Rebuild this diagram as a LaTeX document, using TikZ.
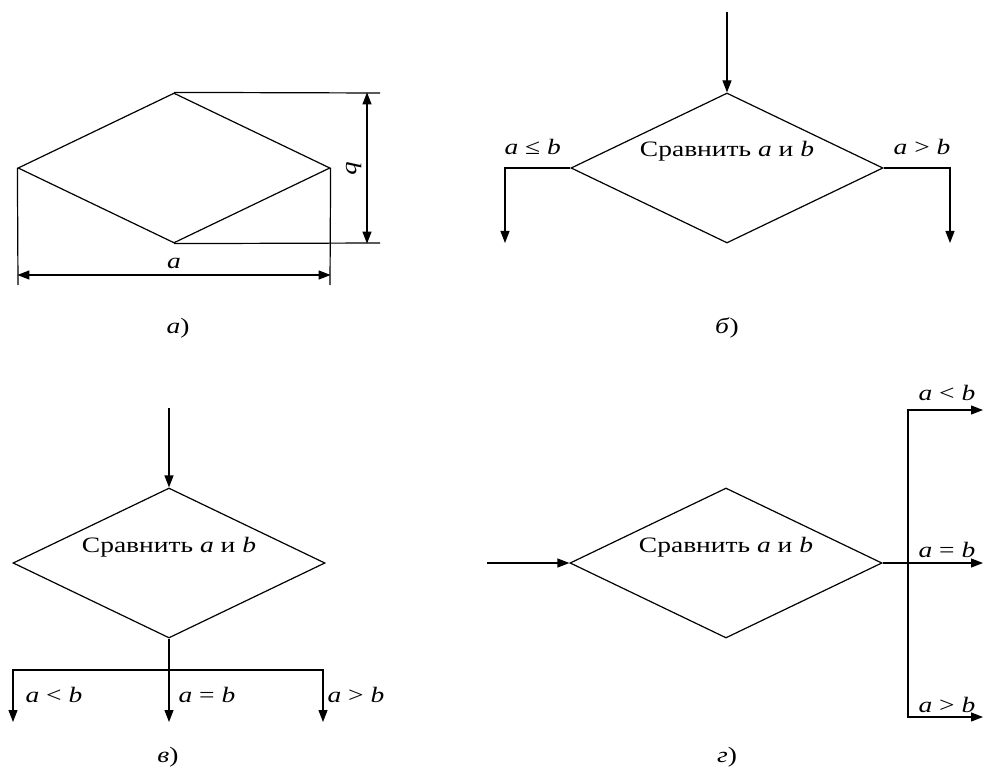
\documentclass[tikz,border=0pt]{standalone}
\usepackage{fontspec}
\setmainfont{Liberation Serif}[FakeStretch=1.25]
\usepackage{tikz}
\usetikzlibrary{positioning, arrows.meta, shapes.geometric}

\tikzset{
    cmpbox/.style={draw, shape=diamond, aspect=2, inner sep=0pt,
                   minimum width=312pt, minimum height=150pt},
    flow/.style={-{Triangle[length=12pt, width=9pt]}},
    dimline/.style={{Triangle[length=12pt, width=9pt]}-{Triangle[length=12pt, width=9pt]}},
    cond/.style={inner sep=0pt},
    caption/.style={anchor=base, inner sep=0pt},
}
\newcommand{\cmptext}{Сравнить \textit{a} и \textit{b}}

\begin{document}
\begin{tikzpicture}[x=1pt, y=-1pt, line width=1.2pt,
    font=\fontsize{22}{26}\selectfont]
    \useasboundingbox (0,0) rectangle (985,778);

    % a) rhombus with sizes
    \node[cmpbox] (rh) at (174,168) {};
    \coordinate (ext1) at (380,93);
    \coordinate (ext2) at (380,243);
    \draw (rh.north) -- (ext1);
    \draw (rh.south) -- (ext2);
    \coordinate (bx) at (367,0);
    \draw[dimline] (rh.north -| bx) -- (rh.south -| bx);
    \node[rotate=-90, cond] (lb) at (354,168) {\textit{b}};
    \coordinate (ext3) at (18,285);
    \coordinate (ext4) at (330,285);
    \draw (rh.west) -- (ext3);
    \draw (rh.east) -- (ext4);
    \coordinate (ay) at (0,275);
    \draw[dimline] (rh.west |- ay) -- (rh.east |- ay);
    \node[caption] (la) at (174,269) {\textit{a}};
    \node[caption] (capa) at (178,333) {\textit{а})};

    % b) two outputs
    \node[cmpbox] (d1) at (727,168) {};
    \node[caption] (t1) at (727,157) {\cmptext};
    \coordinate (in1) at (727,12);
    \coordinate (o1) at (505,243);
    \coordinate (o2) at (950,243);
    \draw[flow] (in1) -- (d1.north);
    \draw[flow] (d1.west) -| (o1);
    \draw[flow] (d1.east) -| (o2);
    \node[cond, anchor=base west] (c1) at (504,155) {\textit{a} ≤ \textit{b}};
    \node[cond, anchor=base east] (c2) at (951,155) {\textit{a} > \textit{b}};
    \node[caption] (capb) at (727,333) {\textit{б})};

    % c) three outputs down
    \node[cmpbox] (d2) at (169,563) {};
    \node[caption] (t2) at (169,552) {\cmptext};
    \coordinate (in2) at (169,408);
    \coordinate (j2) at (169,670);
    \coordinate (o3) at (13,722);
    \coordinate (o4) at (169,722);
    \coordinate (o5) at (323,722);
    \draw[flow] (in2) -- (d2.north);
    \draw[flow] (d2.south) -- (o4);
    \draw[flow] (j2) -| (o3);
    \draw[flow] (j2) -| (o5);
    \node[cond, anchor=base west] (c3) at (25,702) {\textit{a} < \textit{b}};
    \node[cond, anchor=base west] (c4) at (178,702) {\textit{a} = \textit{b}};
    \node[cond, anchor=base west] (c5) at (327,702) {\textit{a} > \textit{b}};
    \node[caption] (capc) at (168,762) {\textit{в})};

    % d) three outputs right
    \node[cmpbox] (d3) at (726,563) {};
    \node[caption] (t3) at (726,552) {\cmptext};
    \coordinate (in3) at (487,563);
    \coordinate (br) at (908,563);
    \coordinate (o6) at (983,410);
    \coordinate (o7) at (983,563);
    \coordinate (o8) at (983,717);
    \draw[flow] (in3) -- (d3.west);
    \draw[flow] (d3.east) -- (o7);
    \draw[flow] (br) |- (o6);
    \draw[flow] (br) |- (o8);
    \node[cond, anchor=base west] (c6) at (918,400) {\textit{a} < \textit{b}};
    \node[cond, anchor=base west] (c7) at (918,557) {\textit{a} = \textit{b}};
    \node[cond, anchor=base west] (c8) at (918,712) {\textit{a} > \textit{b}};
    \node[caption] (capd) at (727,762) {\textit{г})};
\end{tikzpicture}
\end{document}
